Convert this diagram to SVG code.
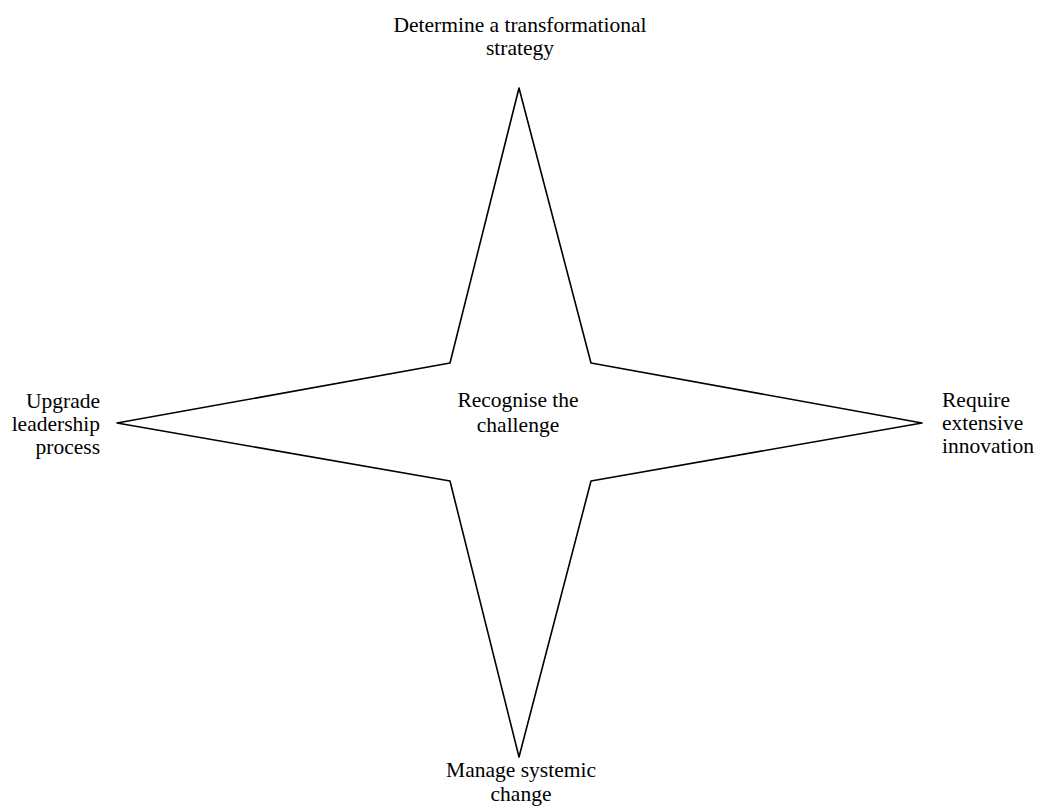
<svg xmlns="http://www.w3.org/2000/svg" width="1040" height="807" viewBox="0 0 1040 807">
  <style>
    .lbl { font-family: "Liberation Serif", "Times New Roman", serif; font-size: 21.5px; fill: #000; }
    .star { fill: #fff; stroke: #000; stroke-width: 1.6; stroke-linejoin: round; }
  </style>
  <rect x="0" y="0" width="1040" height="807" fill="#fff"/>
  <g id="connectors"></g>
  <g id="node-center">
    <path class="star" d="M519,88 L591,363 L922,423 L591,481 L519,757 L450,481 L117,423 L450,363 Z"/>
    <text class="lbl" text-anchor="middle" x="518" y="407">Recognise the</text>
    <text class="lbl" text-anchor="middle" x="518" y="432">challenge</text>
  </g>
  <g id="node-top">
    <text class="lbl" text-anchor="middle" x="520" y="32">Determine a transformational</text>
    <text class="lbl" text-anchor="middle" x="520" y="55">strategy</text>
  </g>
  <g id="node-left">
    <text class="lbl" text-anchor="end" x="100" y="408">Upgrade</text>
    <text class="lbl" text-anchor="end" x="100" y="431">leadership</text>
    <text class="lbl" text-anchor="end" x="100" y="454">process</text>
  </g>
  <g id="node-right">
    <text class="lbl" text-anchor="start" x="942" y="407">Require</text>
    <text class="lbl" text-anchor="start" x="942" y="430">extensive</text>
    <text class="lbl" text-anchor="start" x="942" y="453">innovation</text>
  </g>
  <g id="node-bottom">
    <text class="lbl" text-anchor="middle" x="521" y="777">Manage systemic</text>
    <text class="lbl" text-anchor="middle" x="521" y="801">change</text>
  </g>
</svg>
